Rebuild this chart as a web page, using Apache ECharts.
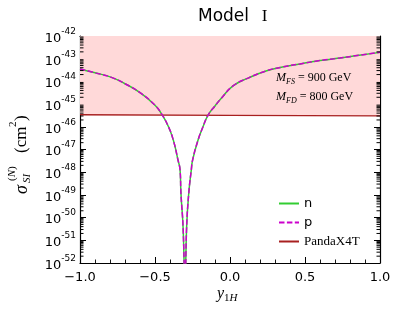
<!DOCTYPE html>
<html><head><meta charset="utf-8">
<script src="https://cdn.jsdelivr.net/npm/echarts@6/dist/echarts.min.js"></script>
<style>html,body{margin:0;padding:0;background:#fff}#c{width:399px;height:309px}</style>
</head><body><div id="c"></div>
<script>
// x values (y_1H) and cross sections (cm^2)
const yH = [-1.0,-0.9,-0.79,-0.7,-0.6,-0.5,-0.455,-0.41,-0.378,-0.347,-0.333,-0.327,-0.313,-0.300,-0.289,-0.275,-0.258,-0.249,-0.213,-0.18,-0.147,-0.1,-0.058,0.02,0.12,0.245,0.35,0.467,0.6,0.733,0.86,1.0];
const sigmaN = [3.55e-44,2.4e-44,1.51e-44,7.9e-45,3.2e-45,8.9e-46,3.6e-46,1.0e-46,2.6e-47,3.5e-48,1.26e-48,1.17e-49,4.0e-51,1e-53,4.0e-51,1.17e-49,1.26e-48,3.5e-48,2.6e-47,1.0e-46,3.2e-46,8.3e-46,1.8e-45,6.3e-45,1.4e-44,2.95e-44,4.3e-44,5.9e-44,8.3e-44,1.07e-43,1.41e-43,1.9e-43];
const sigmaP = [3.55e-44,2.4e-44,1.51e-44,7.9e-45,3.2e-45,8.9e-46,3.6e-46,1.0e-46,2.6e-47,3.5e-48,1.26e-48,1.17e-49,4.0e-51,1e-53,4.0e-51,1.17e-49,1.26e-48,3.5e-48,2.6e-47,1.0e-46,3.2e-46,8.3e-46,1.8e-45,6.3e-45,1.4e-44,2.95e-44,4.3e-44,5.9e-44,8.3e-44,1.07e-43,1.41e-43,1.9e-43];
const pandaX_y = [-1.0, 0.0, 1.0];
const pandaX = [3.4e-46, 3.2e-46, 3.0e-46];
const seriesNames = ['n', 'p', 'PandaX4T'];
const xTicks = [-1.0, -0.5, 0.0, 0.5, 1.0];
const yExpMin = -52, yExpMax = -42;
// ECharts' log scale rounds very small numbers, so values are plotted in units of 1e-52 cm^2
const UNIT_EXP = yExpMin;
const toUnit = v => v / Math.pow(10, UNIT_EXP);
const NDEC = yExpMax - yExpMin;

const chart = echarts.init(document.getElementById('c'), null, {renderer: 'canvas'});
// minor log ticks (2..9 x 10^n) in plotting units
const minorY = [];
for (let e = 0; e < NDEC; e++) for (let k = 2; k <= 9; k++) minorY.push(k * Math.pow(10, e));
const SERIF = '"Liberation Serif","Times New Roman",serif';
const SANS = '"DejaVu Sans",sans-serif';
const zip = (a, b) => a.map((v, i) => [v, toUnit(b[i])]);

const yBase = {type: 'log', logBase: 10, min: 1, max: Math.pow(10, NDEC), interval: 1, splitLine: {show: false}};
const xBase = {type: 'value', min: xTicks[0], max: xTicks[xTicks.length - 1], interval: 0.5, splitLine: {show: false}};
const sub = {font: 'italic 8px ' + SERIF, verticalAlign: 'bottom', lineHeight: 14};
const MINOR_LEN = 3.5;

chart.setOption({
  animation: false,
  title: {text: '{a|Model}{b|   I}', left: 193, top: 3, textStyle: {fontWeight: 'normal', rich: {a: {fontFamily: SANS, fontSize: 17, fontWeight: 'normal', color: '#000'}, b: {fontFamily: SERIF, fontSize: 17, fontWeight: 'normal', color: '#000'}}}},
  grid: {left: 80, right: 19, top: 36, bottom: 46, containLabel: false},
  xAxis: [
    Object.assign({}, xBase, {position: 'bottom',
      axisLine: {onZero: false, lineStyle: {color: '#000', width: 1.2}},
      axisTick: {inside: true, length: 6, lineStyle: {color: '#000', width: 1}},
      minorTick: {show: true, splitNumber: 5, length: 3.5, lineStyle: {color: '#000', width: 0.9}},
      axisLabel: {margin: 8, color: '#000', fontFamily: SANS, fontSize: 13, formatter: v => v.toFixed(1).replace('-', '\u2212')}}),
    Object.assign({}, xBase, {position: 'top',
      axisLine: {onZero: false, lineStyle: {color: '#000', width: 1.2}},
      axisTick: {inside: true, length: 6, lineStyle: {color: '#000', width: 1}},
      minorTick: {show: true, splitNumber: 5, length: 3.5, lineStyle: {color: '#000', width: 0.9}},
      axisLabel: {show: false}})
  ],
  yAxis: [
    Object.assign({}, yBase, {position: 'left',
      axisLine: {show: true, onZero: false, lineStyle: {color: '#000', width: 1.2}},
      axisTick: {show: true, inside: true, length: 6, lineStyle: {color: '#000', width: 1}},
      axisLabel: {margin: 4, color: '#000', formatter: v => '{b|10}{s|' + (Math.round(Math.log10(v)) + UNIT_EXP) + '}',
        rich: {b: {fontFamily: SANS, fontSize: 13, lineHeight: 18, verticalAlign: 'bottom'}, s: {fontFamily: SANS, fontSize: 9, lineHeight: 18, verticalAlign: 'top'}}}}),
    Object.assign({}, yBase, {position: 'right',
      axisLine: {show: true, onZero: false, lineStyle: {color: '#000', width: 1.2}},
      axisTick: {show: true, inside: true, length: 6, lineStyle: {color: '#000', width: 1}},
      axisLabel: {show: false}})
  ],
  legend: {
    data: seriesNames, orient: 'vertical', left: 273, top: 192, itemWidth: 20, itemHeight: 10, itemGap: 6,
    itemStyle: {opacity: 0},
    textStyle: {rich: {sans: {fontFamily: SANS, fontSize: 13, color: '#000'}, serif: {fontFamily: SERIF, fontSize: 13, color: '#000'}}},
    formatter: n => n === 'PandaX4T' ? '{serif|' + n + '}' : '{sans|' + n + '}'
  },
  series: [
    {name: seriesNames[2], type: 'line', data: zip(pandaX_y, pandaX), symbol: 'none', z: 2,
     lineStyle: {color: '#a82020', width: 1.3}, itemStyle: {color: '#a82020'},
     areaStyle: {origin: 'end', color: '#ffd9d9', opacity: 1}},
    {name: seriesNames[0], type: 'line', data: zip(yH, sigmaN), symbol: 'none', z: 3, smooth: 0.5,
     lineStyle: {color: '#32cd32', width: 1.5}, itemStyle: {color: '#32cd32'}},
    {name: seriesNames[1], type: 'line', data: zip(yH, sigmaP), symbol: 'none', z: 4, smooth: 0.5,
     lineStyle: {color: '#cc00cc', width: 1.5, type: [5.5, 2.4]}, itemStyle: {color: '#cc00cc'}},
    // minor log ticks on the left and right axes
    {name: 'minor ticks', type: 'custom', z: 6, silent: true, clip: false,
     data: minorY.map(v => [xTicks[0], v]),
     renderItem: (params, api) => {
       const v = api.value(1);
       const pl = api.coord([xTicks[0], v]);
       const pr = api.coord([xTicks[xTicks.length - 1], v]);
       const st = {stroke: '#000', lineWidth: 1};
       return {type: 'group', children: [
         {type: 'line', shape: {x1: pl[0], y1: pl[1], x2: pl[0] + MINOR_LEN, y2: pl[1]}, style: st},
         {type: 'line', shape: {x1: pr[0], y1: pr[1], x2: pr[0] - MINOR_LEN, y2: pr[1]}, style: st}
       ]};
     }}
  ],
  graphic: [
    {type: 'text', z: 100, left: 276, top: 72, style: {text: '{m|M}{s|FS}{t| = 900 GeV}', rich: {m: {font: 'italic 12px ' + SERIF, verticalAlign: 'top', lineHeight: 14}, s: sub, t: {font: '12px ' + SERIF, verticalAlign: 'top', lineHeight: 14}}}},
    {type: 'text', z: 100, left: 276, top: 91, style: {text: '{m|M}{s|FD}{t| = 800 GeV}', rich: {m: {font: 'italic 12px ' + SERIF, verticalAlign: 'top', lineHeight: 14}, s: sub, t: {font: '12px ' + SERIF, verticalAlign: 'top', lineHeight: 14}}}},
    {type: 'text', z: 100, left: 217, top: 286, style: {text: '{y|y}{s|1}{h|H}', rich: {y: {font: 'italic 16px ' + SERIF, verticalAlign: 'top', lineHeight: 18}, s: {font: '11px ' + SERIF, verticalAlign: 'bottom', lineHeight: 18}, h: {font: 'italic 11px ' + SERIF, verticalAlign: 'bottom', lineHeight: 18}}}},
    {type: 'group', z: 100, x: 27, y: 194, rotation: Math.PI / 2, children: [
      {type: 'text', x: 0, y: -5, style: {text: 'σ', font: 'italic 18px ' + SERIF, verticalAlign: 'middle', fill: '#000'}},
      {type: 'text', x: 11, y: 0, style: {text: 'SI', font: 'italic 11px ' + SERIF, verticalAlign: 'middle', fill: '#000'}},
      {type: 'text', x: 13, y: -15, style: {text: '{p|(}{n|N}{p|)}', rich: {p: {font: '11px ' + SERIF}, n: {font: 'italic 11px ' + SERIF}}, verticalAlign: 'middle', fill: '#000'}},
      {type: 'text', x: 41, y: -5, style: {text: '(cm', font: '17px ' + SERIF, verticalAlign: 'middle', fill: '#000'}},
      {type: 'text', x: 67, y: -14, style: {text: '2', font: '11px ' + SERIF, verticalAlign: 'middle', fill: '#000'}},
      {type: 'text', x: 73, y: -5, style: {text: ')', font: '17px ' + SERIF, verticalAlign: 'middle', fill: '#000'}}
    ]}
  ]
});
</script></body></html>
